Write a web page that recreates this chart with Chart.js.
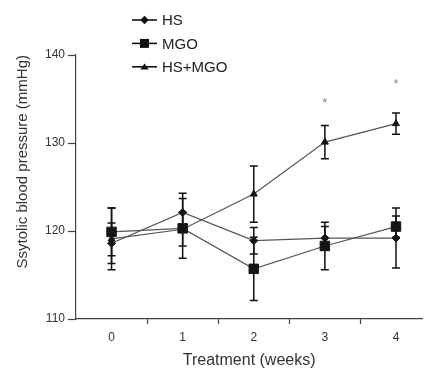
<!DOCTYPE html>
<html>
<head>
<meta charset="utf-8">
<script src="https://cdn.jsdelivr.net/npm/chart.js@4.4.0/dist/chart.umd.min.js"></script>
<style>
    html, body { margin: 0; padding: 0; background: #fff; }
    #wrap { width: 430px; height: 370px; }
</style>
</head>
<body>
<div id="wrap"><canvas id="myChart1"></canvas></div>
<script>
// Dữ liệu (mmHg)
const weeks = [0, 1, 2, 3, 4];
const hsMean = [118.6, 122.1, 118.9, 119.2, 119.2];
const hsErr = [2.3, 2.2, 1.5, 1.3, 3.4];
const mgoMean = [119.9, 120.3, 115.7, 118.3, 120.5];
const mgoErr = [2.7, 3.4, 3.6, 2.7, 1.2];
const hsMgoMean = [119.1, 120.2, 124.2, 130.1, 132.2];
const hsMgoErr = [3.5, 1.9, 3.2, 1.9, 1.2];
const starAt = [null, null, null, 134.9, 137.1];  // dấu * (p < 0.05)
const yTicks = [110, 120, 130, 140];

const FONT = "'Liberation Sans', Arial, sans-serif";
Chart.defaults.font.family = FONT;

function toPoints(arr) {
    return arr.map((v, i) => ({ x: weeks[i], y: v }));
}

function drawMarker(ctx, style, x, y) {
    ctx.beginPath();
    if (style === 'rectRot') {
        ctx.moveTo(x - 4.2, y); ctx.lineTo(x, y - 4.2);
        ctx.lineTo(x + 4.2, y); ctx.lineTo(x, y + 4.2);
    } else if (style === 'rect') {
        ctx.rect(x - 4.5, y - 4.5, 9, 9);
    } else {
        ctx.moveTo(x - 4.2, y + 2.6); ctx.lineTo(x + 4.2, y + 2.6); ctx.lineTo(x, y - 3.2);
    }
    ctx.closePath();
    ctx.fill();
}

// chú thích tự vẽ ở góc trên
const legendPlugin = {
    id: 'topLegend',
    afterDraw(chart) {
        const ctx = chart.ctx;
        ctx.save();
        chart.data.datasets.forEach((ds, i) => {
            const y = 20 + i * 23.4;
            ctx.strokeStyle = '#111';
            ctx.lineWidth = 1.6;
            ctx.beginPath();
            ctx.moveTo(132, y);
            ctx.lineTo(157, y);
            ctx.stroke();
            ctx.fillStyle = '#111';
            drawMarker(ctx, ds.pointStyle, 144.5, y);
            ctx.fillStyle = '#222';
            ctx.font = '15px ' + FONT;
            ctx.textAlign = 'left';
            ctx.textBaseline = 'middle';
            ctx.fillText(ds.label, 162, y + 1);
        });
        ctx.restore();
    }
};

// thanh sai số + dấu *
const errorBarPlugin = {
    id: 'errorBars',
    beforeDatasetsDraw(chart) {
        const { ctx, scales: { x, y } } = chart;
        ctx.save();
        ctx.strokeStyle = '#111';
        ctx.lineWidth = 1.5;
        chart.data.datasets.forEach(ds => {
            ds.data.forEach((p, i) => {
                const px = x.getPixelForValue(p.x);
                const top = y.getPixelForValue(p.y + ds.err[i]);
                const bot = y.getPixelForValue(p.y - ds.err[i]);
                ctx.beginPath();
                ctx.moveTo(px, top); ctx.lineTo(px, bot);
                ctx.moveTo(px - 4, top); ctx.lineTo(px + 4, top);
                ctx.moveTo(px - 4, bot); ctx.lineTo(px + 4, bot);
                ctx.stroke();
            });
        });
        ctx.fillStyle = '#8a8a8a';
        ctx.font = '13px ' + FONT;
        ctx.textAlign = 'center';
        ctx.textBaseline = 'alphabetic';
        starAt.forEach((v, i) => {
            if (v === null) return;
            ctx.fillText('*', x.getPixelForValue(weeks[i]), y.getPixelForValue(v) + 7.4);
        });
        ctx.restore();
    }
};

const lineBase = {
    borderColor: '#555',
    borderWidth: 1.2,
    pointBackgroundColor: '#151515',
    pointBorderColor: '#151515',
    pointBorderWidth: 1,
    tension: 0,
    fill: false
};

const ctx = document.getElementById('myChart1').getContext('2d');
const myChart1 = new Chart(ctx, {
    type: 'line',
    data: {
        datasets: [
            Object.assign({}, lineBase, { label: 'HS', data: toPoints(hsMean), err: hsErr, pointStyle: 'rectRot', pointRadius: 4 }),
            Object.assign({}, lineBase, { label: 'MGO', data: toPoints(mgoMean), err: mgoErr, pointStyle: 'rect', pointRadius: 6.7 }),
            Object.assign({}, lineBase, { label: 'HS+MGO', data: toPoints(hsMgoMean), err: hsMgoErr, pointStyle: 'triangle', pointRadius: 4 })
        ]
    },
    options: {
        responsive: true,
        maintainAspectRatio: false,
        animation: false,
        layout: { padding: { top: 55, right: 0, left: 0, bottom: 0 } },
        plugins: {
            legend: { display: false },
            tooltip: { enabled: false }
        },
        scales: {
            x: {
                type: 'linear',
                min: -0.5,
                max: 4.37,
                afterBuildTicks: scale => {
                    const t = [];
                    for (let v = -0.5; v <= 4; v += 0.5) t.push({ value: v });
                    scale.ticks = t;
                },
                afterFit: scale => { scale.height = 51; },
                border: { color: '#444', width: 1.2 },
                grid: {
                    drawOnChartArea: false,
                    tickLength: 5,
                    tickWidth: 1.2,
                    tickColor: c => (c.tick && !Number.isInteger(c.tick.value) && c.tick.value > -0.5) ? '#444' : 'rgba(0,0,0,0)'
                },
                ticks: {
                    autoSkip: false,
                    maxRotation: 0,
                    padding: 6,
                    color: '#333',
                    font: { size: 12 },
                    callback: v => Number.isInteger(v) ? v : ''
                },
                title: {
                    display: true,
                    text: 'Treatment (weeks)',
                    color: '#333',
                    font: { size: 16 },
                    padding: { top: 0, bottom: 0 }
                }
            },
            y: {
                min: 110,
                max: 140,
                afterBuildTicks: scale => { scale.ticks = yTicks.map(v => ({ value: v })); },
                afterFit: scale => { scale.width = 76; },
                border: { color: '#444', width: 1.2 },
                grid: {
                    drawOnChartArea: false,
                    tickLength: 8,
                    tickWidth: 1.2,
                    tickColor: '#444'
                },
                ticks: {
                    padding: 3,
                    color: '#333',
                    font: { size: 12 }
                },
                title: {
                    display: true,
                    text: 'Ssytolic blood pressure (mmHg)',
                    align: 'end',
                    color: '#333',
                    font: { size: 15 },
                    padding: { top: 14, bottom: 0 }
                }
            }
        }
    },
    plugins: [errorBarPlugin, legendPlugin]
});
</script>
</body>
</html>
